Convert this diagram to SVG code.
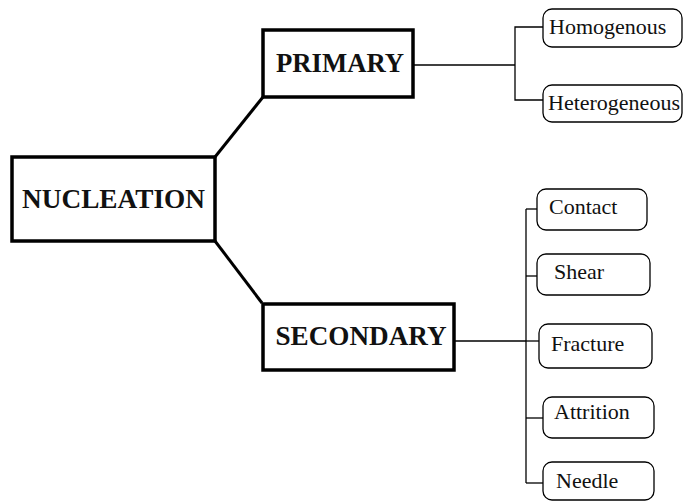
<svg xmlns="http://www.w3.org/2000/svg" width="683" height="502" viewBox="0 0 683 502">
<style>
.main{fill:#fff;stroke:#000;stroke-width:3.5}
.sub{fill:#fff;stroke:#000;stroke-width:1.3}
.big{font-family:"Liberation Serif","Times New Roman",serif;font-weight:bold;font-size:27px;fill:#111}
.sm{font-family:"Liberation Serif","Times New Roman",serif;font-size:22px;fill:#111}
.c{fill:none;stroke:#000;stroke-width:1.3}
.t{fill:none;stroke:#000;stroke-width:3}
</style>
<rect width="683" height="502" fill="#fff"/>
<g id="connectors">
<line class="t" x1="215" y1="157" x2="263" y2="97"/>
<line class="t" x1="215" y1="241" x2="262" y2="303"/>
<line class="c" x1="413" y1="65" x2="515" y2="65"/>
<polyline class="c" points="543,27 515,27 515,100 543,100"/>
<line class="c" x1="454" y1="341" x2="526" y2="341"/>
<line class="c" x1="526" y1="209" x2="526" y2="483"/>
<line class="c" x1="526" y1="209" x2="538" y2="209"/>
<line class="c" x1="526" y1="276" x2="538" y2="276"/>
<line class="c" x1="526" y1="341" x2="540" y2="341"/>
<line class="c" x1="526" y1="418" x2="543" y2="418"/>
<line class="c" x1="526" y1="483" x2="543" y2="483"/>
</g>
<g id="nucleation"><rect class="main" x="12" y="157" width="203" height="84"/><text class="big" x="113.5" y="208" text-anchor="middle" textLength="183" lengthAdjust="spacingAndGlyphs">NUCLEATION</text></g>
<g id="primary"><rect class="main" x="263" y="30" width="150" height="67"/><text class="big" x="340" y="72" text-anchor="middle" textLength="128" lengthAdjust="spacingAndGlyphs">PRIMARY</text></g>
<g id="secondary"><rect class="main" x="263" y="304" width="191" height="66"/><text class="big" x="361" y="345" text-anchor="middle" textLength="171" lengthAdjust="spacingAndGlyphs">SECONDARY</text></g>
<g id="homogenous"><rect class="sub" x="543" y="9" width="139" height="38" rx="9"/><text class="sm" x="549" y="34">Homogenous</text></g>
<g id="heterogeneous"><rect class="sub" x="543" y="85" width="139" height="37" rx="9"/><text class="sm" x="548" y="110">Heterogeneous</text></g>
<g id="contact"><rect class="sub" x="537" y="189" width="110" height="41" rx="9"/><text class="sm" x="549" y="214">Contact</text></g>
<g id="shear"><rect class="sub" x="537" y="254" width="113" height="41" rx="9"/><text class="sm" x="554" y="279">Shear</text></g>
<g id="fracture"><rect class="sub" x="539" y="324" width="113" height="44" rx="9"/><text class="sm" x="551" y="351">Fracture</text></g>
<g id="attrition"><rect class="sub" x="543" y="397" width="111" height="41" rx="9"/><text class="sm" x="554" y="419">Attrition</text></g>
<g id="needle"><rect class="sub" x="543" y="462" width="111" height="38" rx="9"/><text class="sm" x="556" y="488">Needle</text></g>
</svg>
